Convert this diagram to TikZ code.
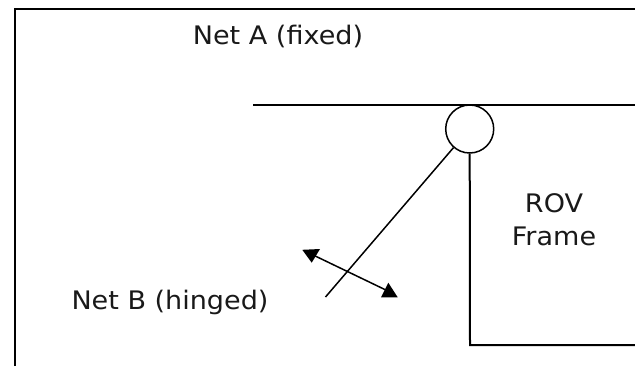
\documentclass[tikz,border=0pt]{standalone}
\usepackage{fontspec}
\setmainfont[FakeStretch=1.06]{DejaVu Sans}
\usetikzlibrary{arrows.meta,positioning}
\tikzset{>=Stealth,every node/.style={font=\fontsize{25.5bp}{32.3bp}\selectfont,text=black!90},
 netline/.style={line width=2bp},
 hinge/.style={circle,draw,line width=1.5bp,minimum size=48bp,inner sep=0pt},
 swing/.style={line width=1.5bp}}
\begin{document}
\begin{tikzpicture}[x=1bp,y=-1bp]
\useasboundingbox (0,0) rectangle (635,366);
% outer border, open at the right and bottom
\coordinate (cornerbl) at (14.5,366);
\coordinate (cornertl) at (14.5,9);
\coordinate (cornertr) at (635,9);
\draw[netline] (cornerbl)--(cornertl)--(cornertr);
% fixed net with the hinge under it
\coordinate (neta0) at (253,104.7);
\coordinate (neta1) at (635,104.7);
\draw[netline] (neta0)--(neta1);
\node[hinge] (pivot) at (469.7,129){};
% frame
\coordinate (framebl) at (470,345);
\coordinate (frameend) at (635,345);
\draw[netline] (pivot.south)--(framebl)--(frameend);
% hinged net and its swing arrow
\coordinate (netb) at (325.5,297);
\draw[swing] (pivot.229)--(netb);
\coordinate (swinga) at (309,253);
\coordinate (swingb) at (390,292);
\draw[swing] (swinga)--(swingb);
\fill (302.3,249.8)--(320,249)--(311.7,262.7)--cycle;
\fill (381,297.3)--(397.7,297.3)--(388.3,282.7)--cycle;
\node[anchor=base] (labela) at (278,44.5){Net A (fixed)};
\node[anchor=base] (labelb) at (170,309){Net B (hinged)};
\node[anchor=base,align=center] (labelrov) at (554,245){ROV\\Frame};
\end{tikzpicture}
\end{document}
